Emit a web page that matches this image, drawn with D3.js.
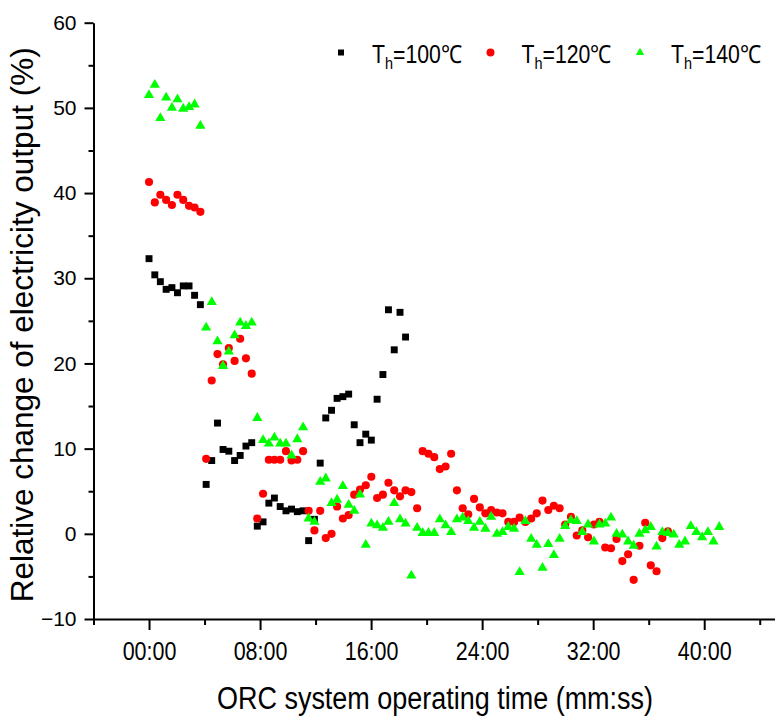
<!DOCTYPE html>
<html>
<head>
<meta charset="utf-8">
<script src="https://cdn.jsdelivr.net/npm/d3@7"></script>
<style>
  html, body { margin: 0; padding: 0; background: #fff; }
  svg { display: block; }
  text { font-family: "Liberation Sans", Arial, sans-serif; fill: #000; }
</style>
</head>
<body>
<svg id="chart" width="775" height="722"></svg>
<script>
// ---- Data (times in seconds since start) ----
const times = [
  0,25,49,74,99,123,148,173,197,222,
  247,271,296,320,345,370,394,419,444,468,
  493,518,542,567,592,616,641,666,690,715,
  740,764,789,813,838,863,887,912,937,961,
  986,1011,1035,1060,1085,1109,1134,1159,1183,1208,
  1233,1257,1282,1306,1331,1356,1380,1405,1430,1454,
  1479,1504,1528,1553,1578,1602,1627,1652,1676,1701,
  1726,1750,1775,1799,1824,1849,1873,1898,1923,1947,
  1972,1997,2021,2046,2071,2095,2120,2145,2169,2194,
  2219,2243,2268,2292,2317,2342,2366,2391,2416,2440,
  2465
];
const values100 = [
  32.3,30.4,29.6,28.7,28.9,28.3,29.1,29.1,28.0,26.9,
  5.8,8.6,13.0,9.9,9.7,8.6,9.2,10.3,10.7,0.9,
  1.4,3.6,4.2,3.2,2.7,2.9,2.6,2.7,-0.8,1.7,
  8.3,13.6,14.5,15.9,16.1,16.4,12.8,10.7,11.7,11.0,
  15.8,18.7,26.3,21.6,26.0,23.1
];
const values120 = [
  41.3,38.9,39.8,39.2,38.6,39.8,39.2,38.5,38.3,37.8,
  8.8,18.0,21.1,19.9,21.8,20.3,22.9,20.6,18.8,1.8,
  4.7,8.7,8.7,8.7,9.7,8.6,8.7,9.7,2.7,0.4,
  2.7,-0.5,0.0,3.2,1.8,2.2,4.6,5.2,5.7,6.7,
  4.2,4.6,6.0,5.1,4.4,5.1,4.9,3.0,9.7,9.4,
  9.0,7.6,7.9,9.4,5.1,3.0,2.3,4.1,3.1,2.4,
  2.8,2.5,2.4,1.4,1.4,1.9,1.4,1.8,2.4,3.9,
  2.8,3.3,3.0,1.1,2.0,-0.2,0.4,-0.4,1.1,1.4,
  -1.6,-1.7,-0.6,-3.2,-2.4,-5.4,-1.4,1.3,-3.7,-4.4,
  -0.5,0.3
];
const values140 = [
  51.5,52.7,48.8,51.2,50.0,51.0,49.9,50.1,50.4,47.9,
  24.2,27.2,22.6,19.7,21.4,23.3,24.8,24.4,24.8,13.6,
  11.0,10.6,11.3,10.6,10.6,9.2,11.1,12.5,1.8,1.4,
  6.1,6.5,3.6,4.0,5.6,3.4,2.7,4.6,-1.3,1.2,
  1.0,0.7,1.4,3.6,1.7,1.2,-4.9,0.7,0.1,0.1,
  0.1,1.7,1.0,0.2,1.7,1.9,1.5,0.7,1.4,0.6,
  2.0,0.0,0.2,0.8,0.6,-4.5,1.5,-0.6,-1.3,-4.0,
  -1.2,-2.5,-0.6,0.9,1.6,1.5,0.2,1.1,-0.9,1.1,
  1.2,1.9,0.0,-0.1,-0.9,-1.4,0.0,0.4,0.8,-1.5,
  0.2,0.1,-0.1,-1.3,-0.9,0.9,0.2,-0.4,0.2,-0.9,
  0.8
];
const seriesNames = ["100", "120", "140"];
const seriesColors = ["#000000", "#ff0000", "#00ff00"];
const xMajorTicks = [0, 480, 960, 1440, 1920, 2400];
const xMinorTicks = [-240, 240, 720, 1200, 1680, 2160, 2640];
const yMajorTicks = [-10, 0, 10, 20, 30, 40, 50, 60];
const yMinorTicks = [-5, 5, 15, 25, 35, 45, 55];
const xTitle = "ORC system operating time (mm:ss)";
const yTitle = "Relative change of electricity output (%)";

// ---- Layout ----
const svg = d3.select("#chart");
const x = d3.scaleLinear().domain([-240, 2706]).range([93.5, 775]);
const y = d3.scaleLinear().domain([-10, 60]).range([619, 22.7]);
const fmt = s => {
  const m = Math.floor(s / 60), r = s % 60;
  return String(m).padStart(2, "0") + ":" + String(r).padStart(2, "0");
};

// X axis
const xAxisG = svg.append("g").attr("transform", `translate(0,${y(-10)})`);
xAxisG.call(d3.axisBottom(x).tickValues(xMajorTicks).tickFormat(fmt).tickSize(11).tickSizeOuter(0).tickPadding(12));
xAxisG.select(".domain").attr("stroke-width", 2);
xAxisG.selectAll(".tick line").attr("stroke-width", 2);
xAxisG.selectAll(".tick text")
  .attr("font-size", 25).attr("font-family", "Liberation Sans, Arial, sans-serif")
  .attr("transform", "scale(0.86,1)");
const xMinorG = svg.append("g").attr("transform", `translate(0,${y(-10)})`);
xMinorG.call(d3.axisBottom(x).tickValues(xMinorTicks).tickFormat("").tickSize(6).tickSizeOuter(0));
xMinorG.select(".domain").remove();
xMinorG.selectAll(".tick line").attr("stroke-width", 2);

// Y axis
const yAxisG = svg.append("g").attr("transform", `translate(${x(-240)},0)`);
yAxisG.call(d3.axisLeft(y).tickValues(yMajorTicks).tickFormat(d3.format("d")).tickSize(9).tickSizeOuter(0).tickPadding(8));
yAxisG.select(".domain").attr("stroke-width", 2);
yAxisG.selectAll(".tick line").attr("stroke-width", 2);
yAxisG.selectAll(".tick text").attr("font-size", 21).attr("font-family", "Liberation Sans, Arial, sans-serif");
const yMinorG = svg.append("g").attr("transform", `translate(${x(-240)},0)`);
yMinorG.call(d3.axisLeft(y).tickValues(yMinorTicks).tickFormat("").tickSize(5).tickSizeOuter(0));
yMinorG.select(".domain").remove();
yMinorG.selectAll(".tick line").attr("stroke-width", 2);

// Titles
svg.append("text")
  .attr("transform", `translate(435,709) scale(0.87,1)`)
  .attr("text-anchor", "middle").attr("font-size", 31).text(xTitle);
svg.append("text")
  .attr("transform", `translate(33,${(y(-10) + y(60)) / 2 + 4}) rotate(-90)`)
  .attr("text-anchor", "middle").attr("font-size", 31.5).text(yTitle);

// Markers
const allValues = [values100, values120, values140];
const shapes = [d3.symbolSquare, d3.symbolCircle, d3.symbolTriangle];
const sizes = [48, 52, 45];
allValues.forEach((vals, si) => {
  const pts = vals.map((v, i) => ({ t: times[i], v }));
  svg.append("g").selectAll("path").data(pts).join("path")
    .attr("transform", d => `translate(${x(d.t)},${y(d.v)})`)
    .attr("d", d3.symbol().type(shapes[si]).size(sizes[si]))
    .attr("fill", seriesColors[si]);
});

// Legend
const legendX = [341, 490.5, 640];
const legendSizes = [36, 50, 30];
seriesNames.forEach((name, i) => {
  svg.append("path")
    .attr("transform", `translate(${legendX[i]},52.5)`)
    .attr("d", d3.symbol().type(shapes[i]).size(legendSizes[i]))
    .attr("fill", seriesColors[i]);
  const t = svg.append("text")
    .attr("transform", `translate(${legendX[i] + 31},62.7) scale(0.85,1)`)
    .attr("font-size", 25);
  t.append("tspan").text("T");
  t.append("tspan").attr("font-size", 17).attr("dy", 6).text("h");
  t.append("tspan").attr("dy", -6).text("=" + name + "\u2103");
});
</script>
</body>
</html>
